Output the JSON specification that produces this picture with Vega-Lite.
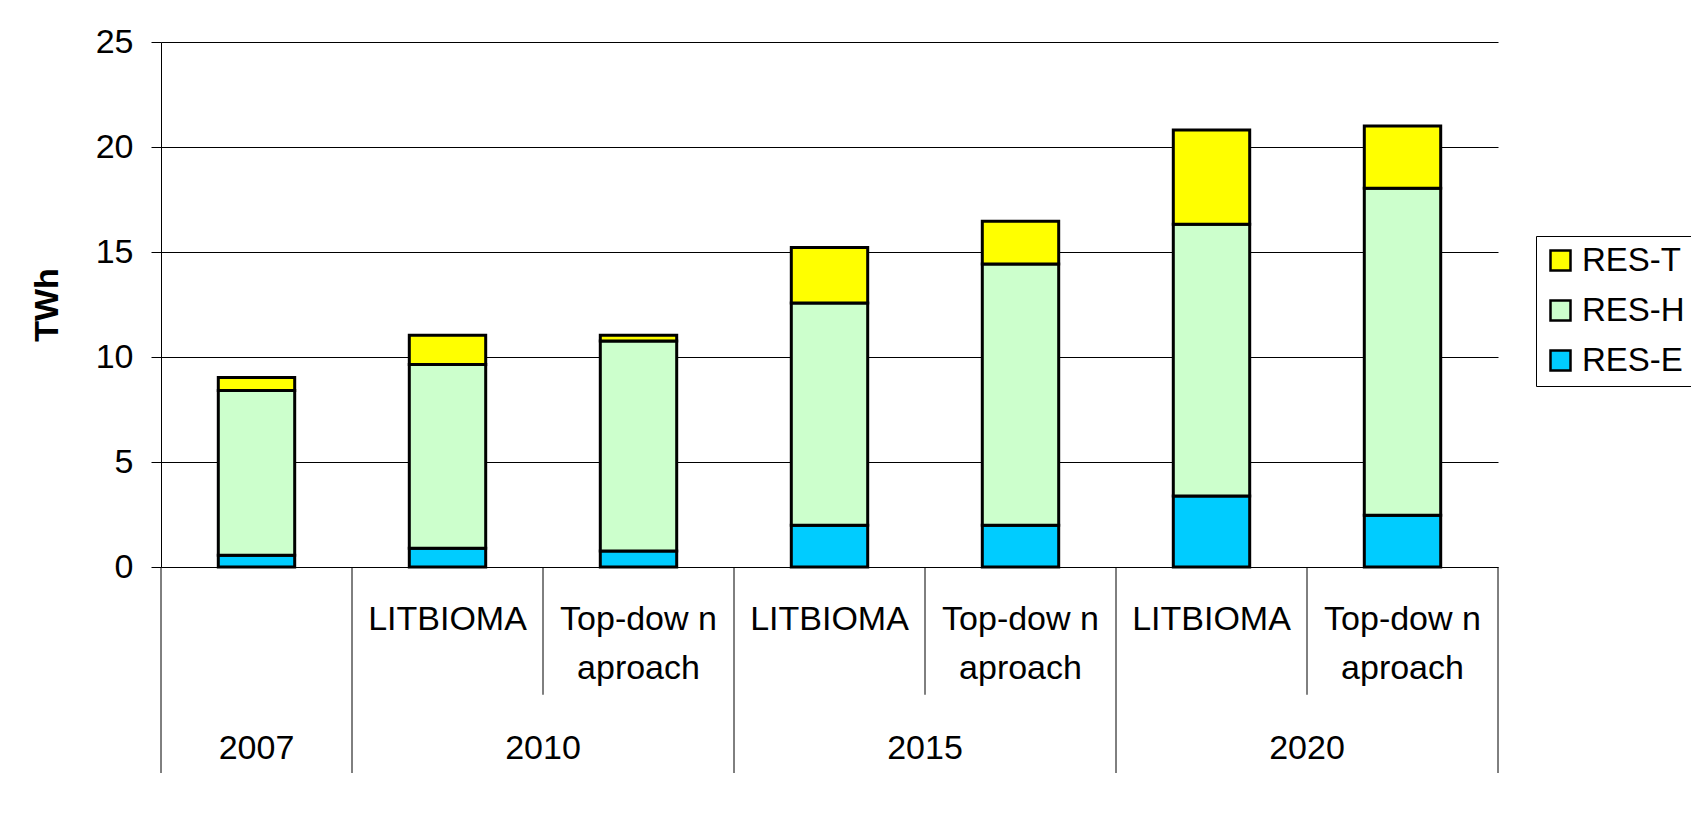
{
  "$schema": "https://vega.github.io/schema/vega-lite/v6.json",
  "padding": {"left": 30, "top": 25, "right": 0, "bottom": 0},
  "background": "white",
  "bounds": "flush",
  "spacing": 0,
  "config": {
    "view": {"stroke": null},
    "font": "Liberation Sans"
  },
  "datasets": {
    "bars": [
      {"bar": "b1", "series": "RES-E", "value": 0.56},
      {"bar": "b1", "series": "RES-H", "value": 7.84},
      {"bar": "b1", "series": "RES-T", "value": 0.62},
      {"bar": "b2", "series": "RES-E", "value": 0.89},
      {"bar": "b2", "series": "RES-H", "value": 8.75},
      {"bar": "b2", "series": "RES-T", "value": 1.39},
      {"bar": "b3", "series": "RES-E", "value": 0.76},
      {"bar": "b3", "series": "RES-H", "value": 10.0},
      {"bar": "b3", "series": "RES-T", "value": 0.27},
      {"bar": "b4", "series": "RES-E", "value": 1.99},
      {"bar": "b4", "series": "RES-H", "value": 10.58},
      {"bar": "b4", "series": "RES-T", "value": 2.64},
      {"bar": "b5", "series": "RES-E", "value": 1.99},
      {"bar": "b5", "series": "RES-H", "value": 12.44},
      {"bar": "b5", "series": "RES-T", "value": 2.03},
      {"bar": "b6", "series": "RES-E", "value": 3.38},
      {"bar": "b6", "series": "RES-H", "value": 12.94},
      {"bar": "b6", "series": "RES-T", "value": 4.49},
      {"bar": "b7", "series": "RES-E", "value": 2.46},
      {"bar": "b7", "series": "RES-H", "value": 15.57},
      {"bar": "b7", "series": "RES-T", "value": 2.97}
    ],
    "seps": [
      {"bar": "b1", "kind": "long"},
      {"bar": "b2", "kind": "long"},
      {"bar": "b3", "kind": "short"},
      {"bar": "b4", "kind": "long"},
      {"bar": "b5", "kind": "short"},
      {"bar": "b6", "kind": "long"},
      {"bar": "b7", "kind": "short"}
    ],
    "methods": [
      {"bar": "b2", "l1": "LITBIOMA", "l2": ""},
      {"bar": "b3", "l1": "Top-dow n", "l2": "aproach"},
      {"bar": "b4", "l1": "LITBIOMA", "l2": ""},
      {"bar": "b5", "l1": "Top-dow n", "l2": "aproach"},
      {"bar": "b6", "l1": "LITBIOMA", "l2": ""},
      {"bar": "b7", "l1": "Top-dow n", "l2": "aproach"}
    ],
    "years": [
      {"bar": "b1", "year": "2007", "pos": "center"},
      {"bar": "b3", "year": "2010", "pos": "edge"},
      {"bar": "b5", "year": "2015", "pos": "edge"},
      {"bar": "b7", "year": "2020", "pos": "edge"}
    ]
  },
  "vconcat": [
    {
      "width": 1337,
      "height": 525,
      "data": {"name": "bars"},
      "mark": {"type": "bar", "stroke": "black", "strokeWidth": 3, "width": {"band": 0.4}},
      "encoding": {
        "x": {
          "field": "bar", "type": "nominal",
          "scale": {"domain": ["b1", "b2", "b3", "b4", "b5", "b6", "b7"], "paddingInner": 0, "paddingOuter": 0},
          "axis": null
        },
        "y": {
          "field": "value", "type": "quantitative", "stack": "zero",
          "scale": {"domain": [0, 25], "nice": false},
          "axis": {
            "title": "TWh",
            "values": [0, 5, 10, 15, 20, 25],
            "grid": true, "gridColor": "black", "gridWidth": 1,
            "domainColor": "black", "domainWidth": 1,
            "tickColor": "black", "tickWidth": 1, "tickSize": 10,
            "labelFontSize": 34, "labelColor": "black", "labelPadding": 18,
            "labelFont": "Liberation Sans",
            "titleFontSize": 34, "titleFontWeight": "bold", "titleColor": "black",
            "titleFont": "Liberation Sans", "titlePadding": 31
          }
        },
        "color": {
          "field": "series", "type": "nominal",
          "scale": {"domain": ["RES-T", "RES-H", "RES-E"], "range": ["#FFFF00", "#CCFFCC", "#00CCFF"]},
          "legend": {
            "title": null,
            "orient": "none",
            "legendX": 1375,
            "legendY": 194,
            "symbolType": "square",
            "symbolSize": 400,
            "symbolStrokeColor": "black",
            "symbolStrokeWidth": 2.5,
            "labelFontSize": 33,
            "labelFont": "Liberation Sans",
            "labelColor": "black",
            "labelOffset": 5,
            "rowPadding": 16,
            "padding": 8,
            "strokeColor": "black",
            "fillColor": "white"
          }
        },
        "order": {"field": "series", "sort": "ascending"}
      }
    },
    {
      "width": 1337,
      "height": 206,
      "layer": [
        {
          "data": {"name": "seps"},
          "transform": [{"filter": "datum.kind === 'long'"}],
          "mark": {"type": "rule", "color": "black", "strokeWidth": 1},
          "encoding": {
            "x": {"field": "bar", "type": "nominal", "bandPosition": 0,
                  "scale": {"domain": ["b1", "b2", "b3", "b4", "b5", "b6", "b7"], "paddingInner": 0, "paddingOuter": 0},
                  "axis": null},
            "y": {"datum": 0, "type": "quantitative", "scale": {"domain": [-9.82, 0], "nice": false}, "axis": null},
            "y2": {"datum": -9.82}
          }
        },
        {
          "data": {"name": "seps"},
          "transform": [{"filter": "datum.kind === 'short'"}],
          "mark": {"type": "rule", "color": "black", "strokeWidth": 1},
          "encoding": {
            "x": {"field": "bar", "type": "nominal", "bandPosition": 0},
            "y": {"datum": 0, "type": "quantitative"},
            "y2": {"datum": -6.09}
          }
        },
        {
          "data": {"name": "seps"},
          "transform": [{"filter": "datum.bar === 'b7'"}],
          "mark": {"type": "rule", "color": "black", "strokeWidth": 1},
          "encoding": {
            "x": {"field": "bar", "type": "nominal", "bandPosition": 1},
            "y": {"datum": 0, "type": "quantitative"},
            "y2": {"datum": -9.82}
          }
        },
        {
          "data": {"name": "methods"},
          "mark": {"type": "text", "font": "Liberation Sans", "fontSize": 34, "color": "black", "baseline": "alphabetic", "align": "center"},
          "encoding": {
            "x": {"field": "bar", "type": "nominal", "bandPosition": 0.5},
            "y": {"datum": -3.02, "type": "quantitative"},
            "text": {"field": "l1"}
          }
        },
        {
          "data": {"name": "methods"},
          "mark": {"type": "text", "font": "Liberation Sans", "fontSize": 34, "color": "black", "baseline": "alphabetic", "align": "center"},
          "encoding": {
            "x": {"field": "bar", "type": "nominal", "bandPosition": 0.5},
            "y": {"datum": -5.35, "type": "quantitative"},
            "text": {"field": "l2"}
          }
        },
        {
          "data": {"name": "years"},
          "transform": [{"filter": "datum.pos === 'center'"}],
          "mark": {"type": "text", "font": "Liberation Sans", "fontSize": 34, "color": "black", "baseline": "alphabetic", "align": "center"},
          "encoding": {
            "x": {"field": "bar", "type": "nominal", "bandPosition": 0.5},
            "y": {"datum": -9.15, "type": "quantitative"},
            "text": {"field": "year"}
          }
        },
        {
          "data": {"name": "years"},
          "transform": [{"filter": "datum.pos === 'edge'"}],
          "mark": {"type": "text", "font": "Liberation Sans", "fontSize": 34, "color": "black", "baseline": "alphabetic", "align": "center"},
          "encoding": {
            "x": {"field": "bar", "type": "nominal", "bandPosition": 0},
            "y": {"datum": -9.15, "type": "quantitative"},
            "text": {"field": "year"}
          }
        }
      ]
    }
  ]
}
